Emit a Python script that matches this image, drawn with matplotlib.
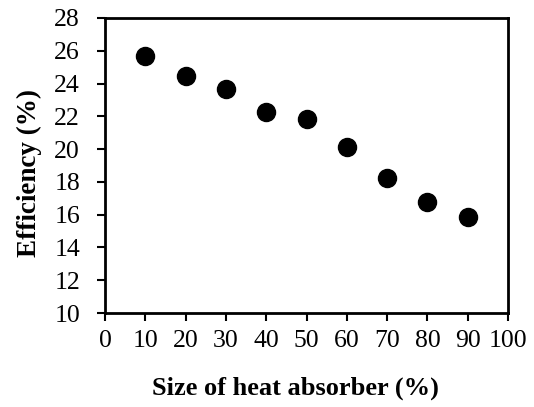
import numpy as np
import matplotlib
matplotlib.use('Agg')
import matplotlib.pyplot as plt

plt.rcParams['font.family'] = ['Liberation Serif', 'DejaVu Serif']

# Data
size_pct = [10, 20, 30, 40, 50, 60, 70, 80, 90]
efficiency = [25.7, 24.45, 23.65, 22.25, 21.85, 20.1, 18.25, 16.75, 15.85]

fig = plt.figure(figsize=(5.34, 4.07), dpi=100)
ax = fig.add_axes([105/534, 1 - 313/407, (508-105)/534, (313-18)/407])

ax.plot(size_pct, efficiency, 'o', color='black', markersize=13)

ax.set_xlim(0, 100)
ax.set_ylim(10, 28)
ax.set_xticks(np.arange(0, 101, 10))
ax.set_yticks(np.arange(10, 29, 2))
ax.tick_params(direction='out', length=6, width=1.5, labelsize=18.5)
ax.tick_params(axis='x', pad=6)
ax.tick_params(axis='y', pad=12)
for s in ax.spines.values():
    s.set_linewidth(2)

ax.set_xlabel('Size of heat absorber (%)', fontsize=19, fontweight='bold', labelpad=18, x=0.473)
ax.set_ylabel('Efficiency (%)', fontsize=19.5, fontweight='bold', labelpad=9, y=0.475)

fig.savefig('out.png', dpi=100)
